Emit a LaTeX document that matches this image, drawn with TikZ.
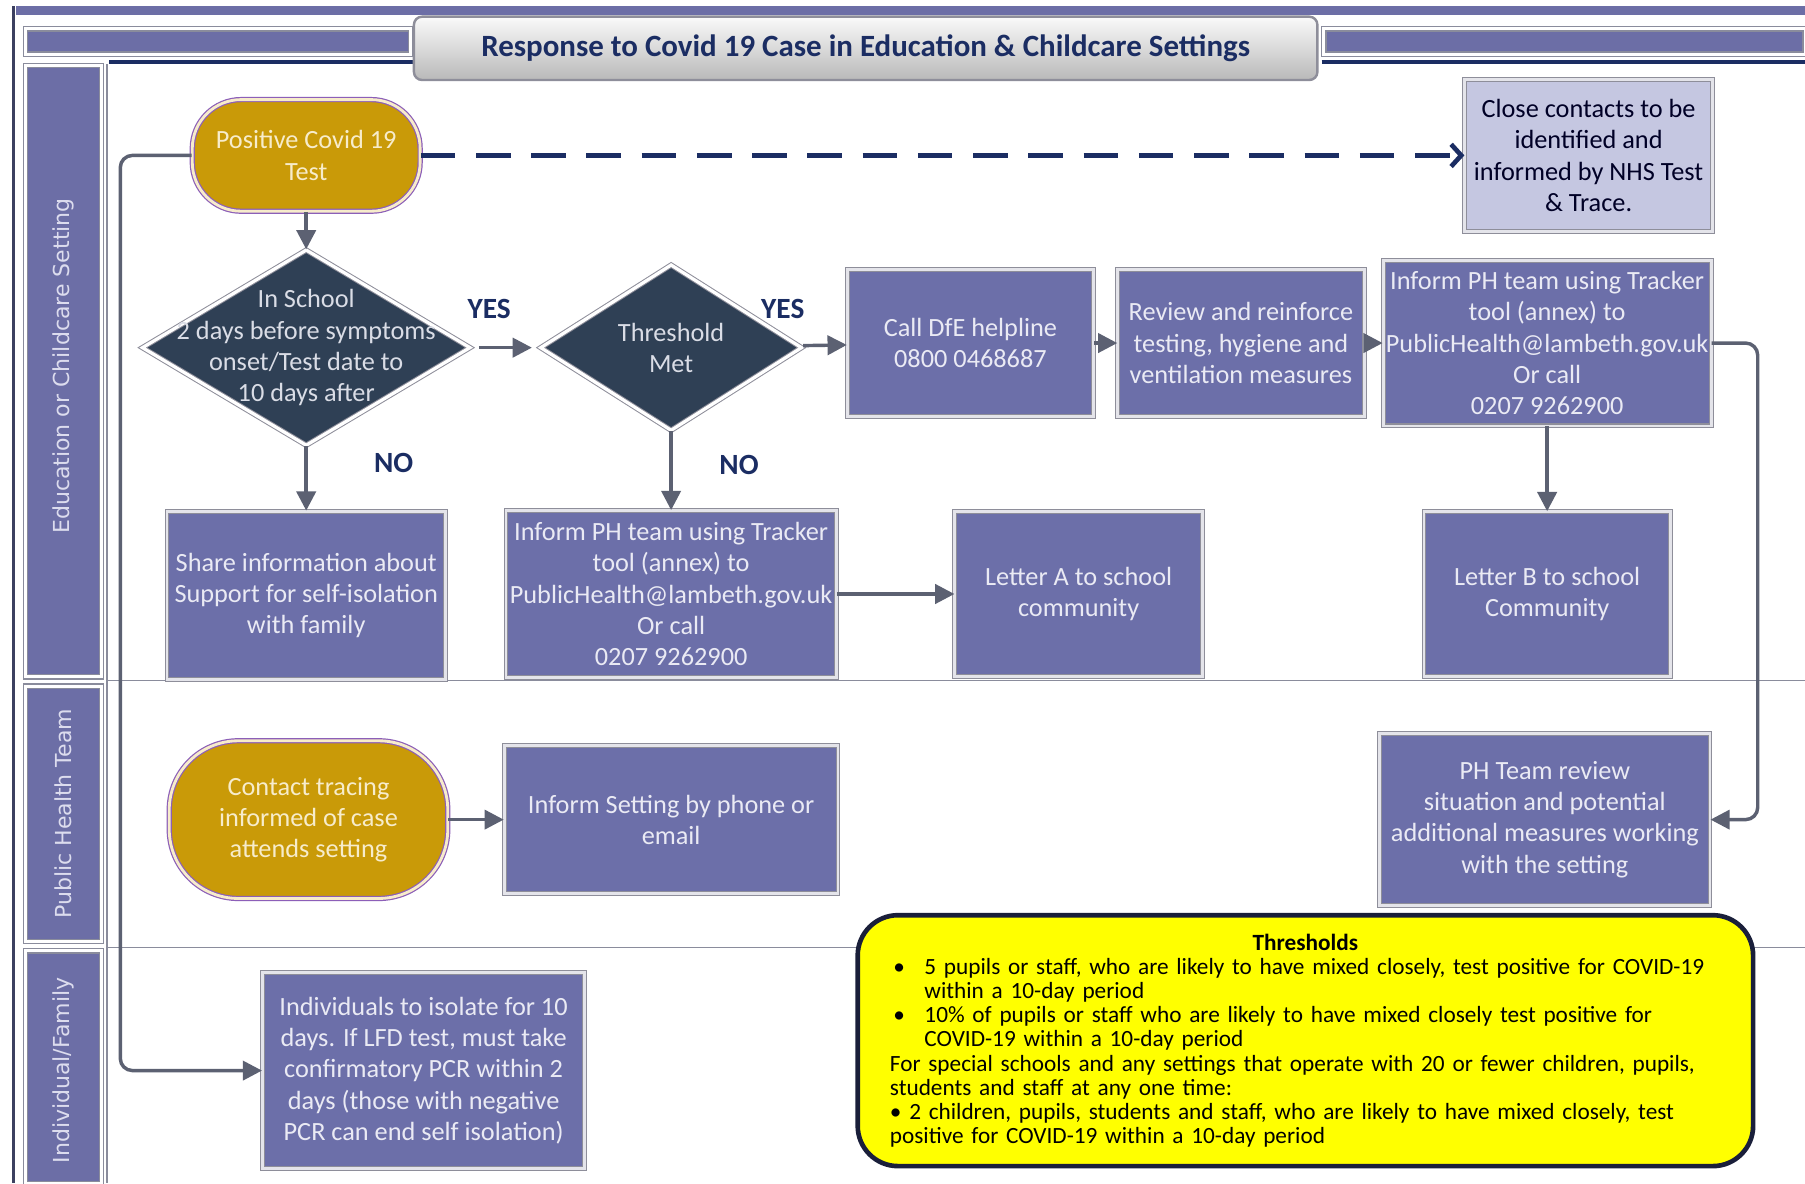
\documentclass[tikz,border=0pt]{standalone}
\usepackage{fontspec}
\setmainfont{Carlito}
\newfontfamily\lanefont{DejaVu Sans}
\usepackage{tikz}
\usetikzlibrary{arrows.meta,shapes.geometric}

\definecolor{lanepurple}{HTML}{6C6EA6}
\definecolor{boxpurple}{HTML}{6C6FA9}
\definecolor{boxtext}{HTML}{EAEAF4}
\definecolor{edgegray}{HTML}{8E8E9A}
\definecolor{edgelight}{HTML}{E4E4EA}
\definecolor{goldfill}{HTML}{C99A08}
\definecolor{goldtext}{HTML}{F7ECCB}
\definecolor{goldedge}{HTML}{8C5FB8}
\definecolor{decfill}{HTML}{2F4055}
\definecolor{dectext}{HTML}{DADDE6}
\definecolor{closefill}{HTML}{C5C7E1}
\definecolor{flowgray}{HTML}{5C6172}
\definecolor{navy}{HTML}{1B2D63}
\definecolor{framegray}{HTML}{8A8C9C}
\definecolor{framedark}{HTML}{3C4060}
\definecolor{lanefg}{HTML}{DCDCEE}
\definecolor{threshyellow}{HTML}{FFFF00}
\definecolor{threshedge}{HTML}{1A1F3A}

\newcommand{\boxfont}{\fontsize{13}{15.4}\selectfont}

\tikzset{
  box/.style={draw=edgegray, double=edgelight, double distance=1.4pt, line width=0.5pt,
    fill=boxpurple, text=boxtext, align=center, inner sep=0pt, font=\boxfont},
  lightbox/.style={box, fill=closefill, text=black!85!blue},
  terminal/.style={draw=goldedge, double=goldtext, double distance=1.4pt, line width=0.6pt,
    fill=goldfill, text=goldtext, align=center, inner sep=0pt, font=\boxfont},
  decision/.style={diamond, draw=edgegray, double=white, double distance=1.6pt, line width=0.5pt,
    fill=decfill, inner sep=0pt},
  decisiontext/.style={text=dectext, align=center, font=\boxfont},
  answer/.style={text=navy, font=\fontsize{14.5}{16}\bfseries},
  lanebar/.style={fill=lanepurple, draw=framegray, double=white, double distance=1.5pt, line width=0.6pt},
  lanelabel/.style={rotate=90, text=lanefg, font={\lanefont\fontsize{10.9}{12}\selectfont}},
  flow/.style={draw=flowgray, line width=1.7pt, ->},
  dashflow/.style={draw=navy, line width=2.3pt, dash pattern=on 0.6cm off 0.36cm,
    -{Straight Barb[length=5pt,width=11pt]}},
}

\begin{document}
\begin{tikzpicture}[x=0.02cm, y=-0.02cm, >={Triangle[length=9.5pt,width=9.5pt]}]
  \fill[white] (0,0) rectangle (1568,1028);
  \useasboundingbox (0,0) rectangle (1568,1028);

  % frame and header bars
  \fill[lanepurple] (14,5) rectangle (1568,13);
  \draw[lanebar] (22,25) rectangle (357,47);
  \draw[lanebar] (1150,25) rectangle (1568,47);
  \draw[navy, line width=2pt] (95,54) -- (360,54);
  \draw[navy, line width=2pt] (1148,54) -- (1568,54);
  \draw[framedark, line width=1.5pt] (12,5) -- (12,1028);

  % swim lanes
  \draw[lanebar] (22,57) rectangle (88,588);
  \draw[lanebar] (22,596) rectangle (88,818);
  \draw[lanebar] (22,826) rectangle (88,1028);
  \draw[framegray, line width=1pt] (93,56) -- (93,1028);
  \draw[framegray, line width=0.8pt] (93,591) -- (1568,591);
  \draw[framegray, line width=0.8pt] (93,823) -- (1568,823);

  \node[lanelabel] (laneedu) at (55,318) {Education or Childcare Setting};
  \node[lanelabel] (lanephe) at (55,707) {Public Health Team};
  \node[lanelabel] (laneind) at (55,930) {Individual/Family};

  \node[draw=edgegray, line width=1.2pt, rounded corners=4pt, top color=white!96!gray,
    bottom color=gray!55!white, minimum width=15.7cm, minimum height=1.1cm,
    text=navy, font=\fontsize{15.3}{17}\bfseries] (title) at (752,42)
    {Response to Covid 19 Case in Education \& Childcare Settings};

  % flow nodes
  \node[terminal, minimum width=3.96cm, minimum height=1.94cm, rounded corners=0.85cm] (pos) at (266,135) {Positive Covid 19\\Test};
  \node[lightbox, minimum width=4.3cm, minimum height=2.64cm] (close) at (1380,135) {Close contacts to be\\identified and\\informed by NHS Test\\\& Trace.};

  \node[decision, minimum width=5.7cm, minimum height=3.4cm] (inschool) at (266,302) {};
  \node[decisiontext] (inschooltext) at (inschool) {In School\\2 days before symptoms\\onset/Test date to\\10 days after};
  \node[decision, minimum width=4.54cm, minimum height=2.88cm] (threshold) at (583,302) {};
  \node[decisiontext] (thresholdtext) at (threshold) {Threshold\\Met};

  \node[box, minimum width=4.28cm, minimum height=2.56cm] (dfe) at (843,298) {Call DfE helpline\\0800 0468687};
  \node[box, minimum width=4.28cm, minimum height=2.56cm] (review) at (1078,298) {Review and reinforce\\testing, hygiene and\\ventilation measures};
  \node[box, minimum width=5.7cm, minimum height=2.88cm] (informtop) at (1344,298) {Inform PH team using Tracker\\tool (annex) to\\PublicHealth@lambeth.gov.uk\\Or call\\0207 9262900};

  \node[box, minimum width=4.84cm, minimum height=2.92cm] (share) at (266,517) {Share information about\\Support for self-isolation\\with family};
  \node[box, minimum width=5.74cm, minimum height=2.9cm] (informlow) at (583,516) {Inform PH team using Tracker\\tool (annex) to\\PublicHealth@lambeth.gov.uk\\Or call\\0207 9262900};
  \node[box, minimum width=4.3cm, minimum height=2.86cm] (lettera) at (937,516) {Letter A to school\\community};
  \node[box, minimum width=4.28cm, minimum height=2.86cm] (letterb) at (1344,516) {Letter B to school\\Community};

  \node[terminal, minimum width=4.84cm, minimum height=2.74cm, rounded corners=1.2cm] (contact) at (268,712) {Contact tracing\\informed of case\\attends setting};
  \node[box, minimum width=5.8cm, minimum height=2.58cm] (setting) at (583,712) {Inform Setting by phone or\\email};
  \node[box, minimum width=5.74cm, minimum height=2.98cm] (phreview) at (1342,712) {PH Team review\\situation and potential\\additional measures working\\with the setting};

  \node[box, minimum width=5.6cm, minimum height=3.4cm] (isolate) at (368,930) {Individuals to isolate for 10\\days. If LFD test, must take\\confirmatory PCR within 2\\days (those with negative\\PCR can end self isolation)};

  \node[fill=threshyellow, draw=threshedge, line width=2.3pt, rounded corners=0.7cm,
    text width=14.9cm, inner xsep=0.33cm, minimum height=4.36cm, align=left,
    font=\fontsize{11.5}{11.9}\selectfont] (thresholds) at (1134,904)
    {{\centering\textbf{Thresholds}\par}
     \leftskip=0.23cm
     \makebox[0.6cm][l]{\hspace{0.06cm}•}5 pupils or staff, who are likely to have mixed closely, test positive for COVID-19\\\hspace*{0.6cm}within a 10-day period\\
     \makebox[0.6cm][l]{\hspace{0.06cm}•}10\% of pupils or staff who are likely to have mixed closely test positive for\\\hspace*{0.6cm}COVID-19 within a 10-day period\\
     For special schools and any settings that operate with 20 or fewer children, pupils,\\students and staff at any one time:\\
     • 2 children, pupils, students and staff, who are likely to have mixed closely, test\\positive for COVID-19 within a 10-day period\par};

  % answers
  \node[answer] (yesone) at (425,268) {YES};
  \node[answer] (yestwo) at (680,268) {YES};
  \node[answer] (noone) at (342,402) {NO};
  \node[answer] (notwo) at (642,404) {NO};

  % connectors
  \draw[dashflow] (pos) -- (close);
  \draw[flow] (pos) -- (inschool);
  \draw[flow, shorten <=4pt, shorten >=4pt] (inschool) -- (threshold);
  \draw[flow, shorten <=2pt] (threshold) -- (dfe);
  \draw[flow] (dfe) -- (review);
  \draw[flow] (review) -- (informtop);
  \draw[flow] (inschool) -- (share);
  \draw[flow] (threshold) -- (informlow);
  \draw[flow] (informlow) -- (lettera);
  \draw[flow] (informtop) -- (letterb);
  \draw[flow, rounded corners=6pt] (informtop.east) -- ++(40,0) |- (phreview.east);
  \draw[flow] (contact) -- (setting);
  \draw[flow, rounded corners=6pt] (pos.west) -- ++(-62,0) |- (isolate.west);
\end{tikzpicture}
\end{document}
